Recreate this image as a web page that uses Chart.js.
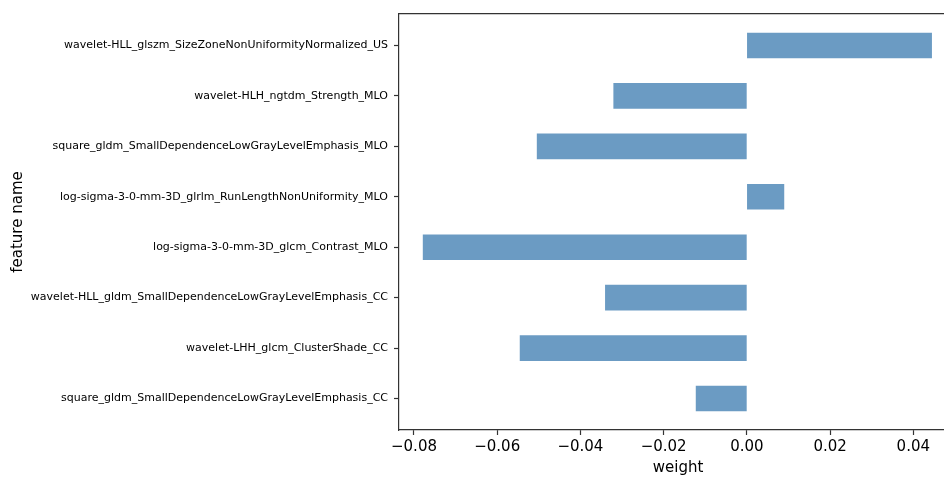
<!DOCTYPE html>
<html>
<head>
<meta charset="utf-8">
<script src="https://cdn.jsdelivr.net/npm/chart.js@4/dist/chart.umd.min.js"></script>
<style>
  html, body { margin: 0; padding: 0; background: #fff; overflow: hidden; }
  #wrap { width: 960px; height: 477px; }
</style>
</head>
<body>
<div id="wrap"><canvas id="featChart"></canvas></div>
<script>
// features, top to bottom as drawn
var features = [
  "wavelet-HLL_glszm_SizeZoneNonUniformityNormalized_US",
  "wavelet-HLH_ngtdm_Strength_MLO",
  "square_gldm_SmallDependenceLowGrayLevelEmphasis_MLO",
  "log-sigma-3-0-mm-3D_glrlm_RunLengthNonUniformity_MLO",
  "log-sigma-3-0-mm-3D_glcm_Contrast_MLO",
  "wavelet-HLL_gldm_SmallDependenceLowGrayLevelEmphasis_CC",
  "wavelet-LHH_glcm_ClusterShade_CC",
  "square_gldm_SmallDependenceLowGrayLevelEmphasis_CC"
];
var weights = [0.0444, -0.0320, -0.0504, 0.0089, -0.0778, -0.0340, -0.0545, -0.0122];
var xTicks = [-0.08, -0.06, -0.04, -0.02, 0.00, 0.02, 0.04];

var points = [];
for (var i in weights) {
  points.push({ x: weights[i], y: Number(i) });
}

var fontFamily = "'DejaVu Sans', sans-serif";
var axisColor = '#333333';

var ctx = document.getElementById('featChart').getContext('2d');

var barChart = new Chart(ctx, {
  type: 'bar',
  data: {
    datasets: [{
      label: 'weight',
      data: points,
      backgroundColor: 'rgba(70, 130, 180, 0.8)',
      borderWidth: 0,
      barThickness: 25
    }]
  },
  options: {
    indexAxis: 'y',
    responsive: true,
    maintainAspectRatio: false,
    animation: false,
    layout: { padding: { top: 0, right: 3, left: 0, bottom: 0 } },
    plugins: {
      legend: { display: false },
      tooltip: { enabled: false }
    },
    scales: {
      x: {
        type: 'linear',
        position: 'bottom',
        min: -0.0836,
        max: 0.0505,
        afterBuildTicks: function(scale) {
          scale.ticks = xTicks.map(function(v) { return { value: v }; });
        },
        afterFit: function(scale) { scale.height = 47; },
        grid: {
          drawOnChartArea: false,
          drawTicks: true,
          tickLength: 5,
          tickWidth: 1.2,
          tickColor: axisColor
        },
        border: { display: true, color: axisColor, width: 1.2 },
        ticks: {
          color: '#000',
          padding: 3,
          maxRotation: 0,
          font: { family: fontFamily, size: 15 },
          callback: function(v) {
            var s = Math.abs(v).toFixed(2);
            return v < -1e-9 ? '\u2212' + s : s;
          }
        },
        title: {
          display: true,
          text: 'weight',
          color: '#000',
          padding: { top: 0, bottom: 0 },
          font: { family: fontFamily, size: 15 }
        }
      },
      xTop: {
        type: 'linear',
        position: 'top',
        min: -0.0836,
        max: 0.0505,
        afterFit: function(scale) { scale.height = 14; },
        grid: { display: false },
        ticks: { display: false },
        border: { display: true, color: axisColor, width: 1.2 }
      },
      y: {
        type: 'linear',
        reverse: true,
        offset: false,
        min: -0.625,
        max: 7.625,
        afterBuildTicks: function(scale) {
          scale.ticks = features.map(function(f, j) { return { value: j }; });
        },
        afterFit: function(scale) { scale.width = 399; },
        grid: {
          offset: false,
          drawOnChartArea: false,
          drawTicks: true,
          tickLength: 5,
          tickWidth: 1.2,
          tickColor: axisColor
        },
        border: { display: true, color: axisColor, width: 1.2 },
        ticks: {
          color: '#000',
          padding: 6,
          autoSkip: false,
          font: { family: fontFamily, size: 11 },
          callback: function(v) { return features[v]; }
        },
        title: {
          display: true,
          text: 'feature name',
          color: '#000',
          padding: { top: 9, bottom: 0 },
          font: { family: fontFamily, size: 15 }
        }
      }
    }
  }
});
</script>
</body>
</html>
